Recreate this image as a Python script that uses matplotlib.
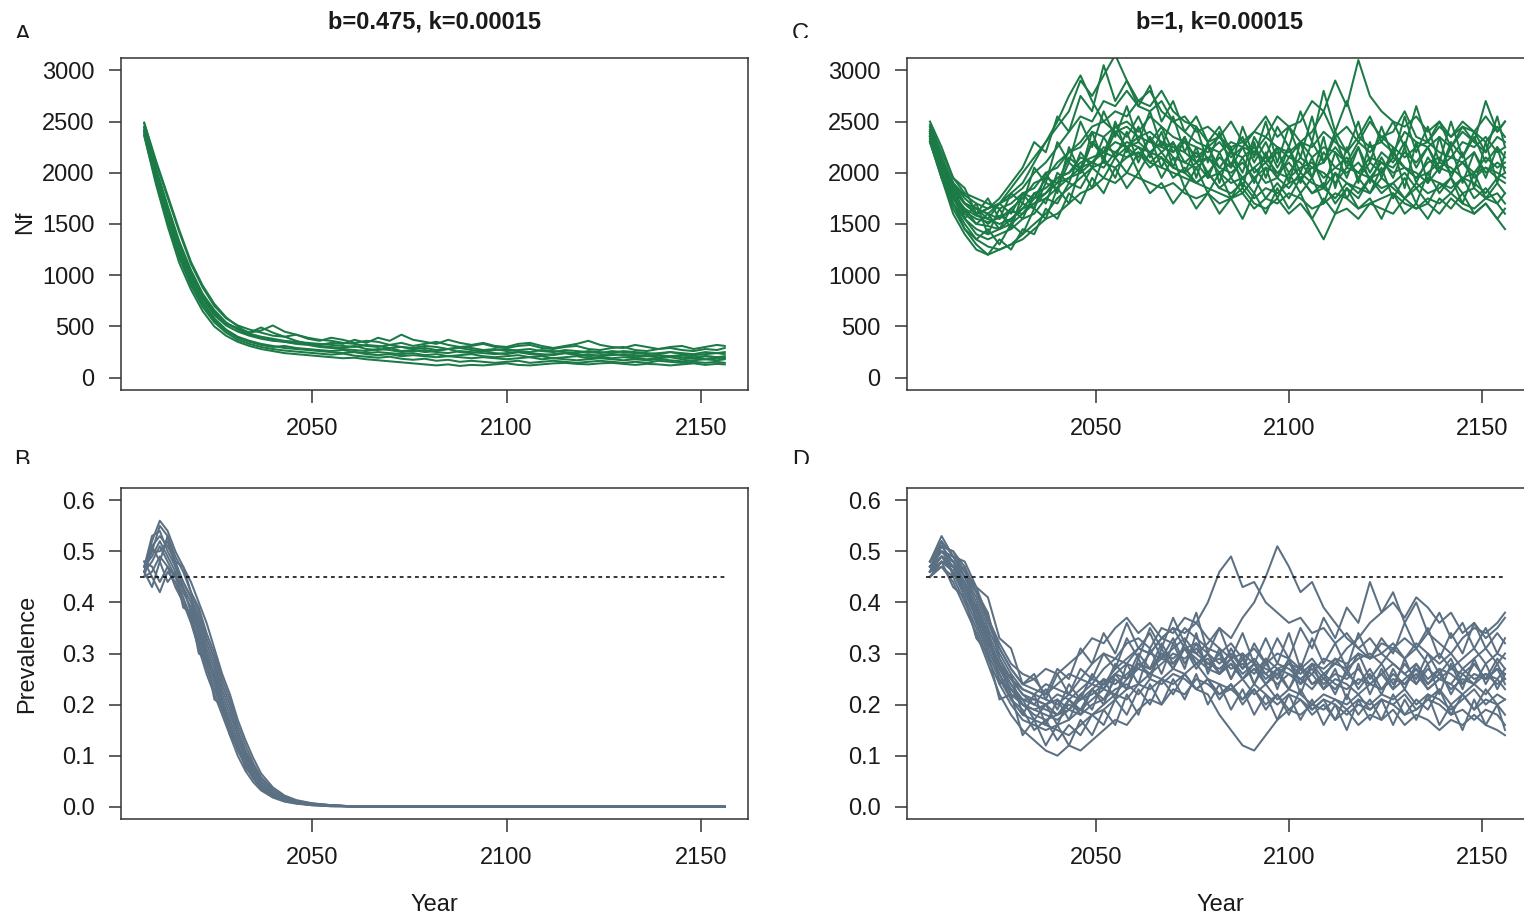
import matplotlib
matplotlib.use("Agg")
import matplotlib.pyplot as plt
import numpy as np
from matplotlib.patches import Rectangle

plt.rcParams['font.family'] = ['Liberation Sans', 'DejaVu Sans']

# ---------------- data ----------------
YEARS = list(range(2007, 2155, 3)) + [2156]          # 51 time points (panels A, C, D)
YEARS_B = [2007, 2009, 2011, 2013, 2015, 2017, 2019, 2021, 2023, 2025,
           2027, 2029, 2031, 2033, 2035, 2037, 2040, 2043, 2046, 2050,
           2055, 2060, 2070, 2156]

TITLES = ["b=0.475, k=0.00015", "b=1, k=0.00015"]
PANEL_LETTERS = ["A", "B", "C", "D"]
NF_TICKS = [0, 500, 1000, 1500, 2000, 2500, 3000]
PREV_TICKS = [0.0, 0.1, 0.2, 0.3, 0.4, 0.5, 0.6]
X_TICKS = [2050, 2100, 2150]
THRESHOLD = 0.45
THRESHOLD_SPAN = (2006, 2156)

# Panel A: Nf, b=0.475
NF_A = [
    [2480, 2100, 1760, 1420, 1110, 880, 700, 580, 510, 470,
     440, 410, 400, 420, 380, 360, 390, 370, 340, 360,
     350, 320, 340, 310, 330, 350, 320, 300, 310, 330,
     300, 290, 310, 320, 290, 280, 300, 310, 280, 270,
     290, 300, 270, 260, 280, 290, 270, 260, 280, 270, 290],
    [2370, 1920, 1520, 1170, 900, 690, 540, 440, 370, 330,
     300, 280, 265, 255, 245, 235, 225, 235, 215, 205,
     195, 205, 185, 175, 185, 165, 175, 155, 165, 155,
     145, 155, 165, 145, 155, 165, 155, 145, 155, 165,
     155, 145, 155, 145, 165, 155, 145, 155, 145, 155, 145],
    [2440, 2020, 1650, 1300, 1020, 800, 640, 530, 480, 440,
     490, 440, 400, 360, 330, 310, 300, 290, 310, 280,
     270, 290, 260, 270, 250, 260, 280, 250, 240, 260,
     240, 230, 250, 240, 230, 220, 240, 230, 210, 220,
     230, 220, 200, 210, 220, 210, 200, 190, 210, 200, 210],
    [2400, 1980, 1600, 1260, 990, 770, 610, 510, 450, 410,
     380, 360, 350, 340, 330, 320, 340, 330, 370, 340,
     390, 360, 420, 370, 350, 330, 370, 340, 320, 340,
     310, 300, 330, 340, 310, 290, 310, 330, 360, 320,
     300, 290, 320, 300, 280, 300, 310, 280, 300, 320, 310],
    [2360, 1890, 1480, 1120, 860, 650, 500, 410, 350, 310,
     280, 260, 240, 230, 220, 210, 200, 190, 195, 180,
     170, 160, 150, 140, 130, 120, 130, 115, 125, 120,
     130, 140, 125, 120, 130, 140, 145, 135, 130, 140,
     145, 135, 125, 135, 130, 120, 130, 140, 125, 135, 130],
    [2450, 2050, 1680, 1330, 1050, 820, 660, 540, 470, 420,
     390, 370, 350, 330, 320, 300, 290, 280, 270, 260,
     280, 270, 250, 260, 270, 250, 240, 260, 250, 240,
     230, 240, 250, 230, 220, 230, 240, 220, 230, 210,
     220, 230, 220, 210, 200, 210, 220, 200, 210, 200, 190],
    [2420, 2010, 1630, 1290, 1010, 790, 630, 530, 480, 440,
     460, 510, 450, 420, 390, 370, 360, 340, 330, 310,
     300, 320, 300, 290, 310, 300, 280, 300, 290, 270,
     280, 260, 270, 280, 260, 250, 270, 260, 250, 240,
     260, 250, 240, 230, 240, 250, 230, 220, 230, 240, 230],
    [2410, 1960, 1580, 1230, 960, 740, 580, 470, 400, 360,
     330, 310, 290, 280, 270, 260, 250, 240, 250, 230,
     220, 230, 210, 220, 210, 200, 210, 200, 190, 200,
     190, 180, 190, 200, 180, 190, 180, 170, 180, 190,
     180, 170, 180, 170, 180, 170, 160, 170, 180, 170, 180],
    [2490, 2120, 1780, 1440, 1130, 900, 720, 590, 500, 430,
     400, 380, 360, 350, 340, 330, 320, 310, 300, 320,
     310, 290, 300, 280, 290, 270, 280, 290, 270, 260,
     270, 280, 260, 250, 270, 260, 250, 240, 260, 250,
     240, 260, 250, 240, 230, 250, 240, 230, 250, 240, 250],
    [2390, 1940, 1550, 1200, 930, 720, 560, 460, 390, 350,
     320, 300, 310, 290, 280, 270, 260, 270, 250, 240,
     250, 240, 230, 240, 220, 230, 210, 220, 230, 210,
     200, 210, 220, 200, 210, 190, 200, 210, 190, 200,
     190, 200, 190, 180, 190, 200, 180, 190, 180, 190, 200],
]

# Panel B: prevalence (%), b=0.475
PREV_B_PCT = [
    [46, 50, 55, 53, 49, 46, 42, 38, 33, 29, 24, 20, 15, 11, 8, 5.5, 3.2, 1.8, 1.1, 0.6, 0.3, 0.1, 0, 0],
    [48, 47, 44, 47, 45, 41, 37, 33, 28, 24, 19, 15, 11, 8, 5.5, 3.5, 2, 1.2, 0.7, 0.4, 0.2, 0.1, 0, 0],
    [45, 51, 53, 51, 48, 44, 41, 36, 31, 27, 22, 18, 14, 10, 7, 4.8, 2.6, 1.5, 0.9, 0.5, 0.2, 0.1, 0, 0],
    [47, 49, 52, 49, 46, 42, 39, 34, 30, 25, 20, 16, 12, 9, 6, 4, 2.3, 1.3, 0.8, 0.4, 0.2, 0.1, 0, 0],
    [46, 52, 56, 54, 50, 47, 44, 40, 36, 31, 26, 22, 17, 13, 9.5, 6.5, 3.8, 2.2, 1.3, 0.7, 0.3, 0.1, 0, 0],
    [48, 45, 42, 46, 44, 40, 36, 31, 26, 22, 18, 14, 10, 7, 4.8, 3.2, 1.8, 1, 0.6, 0.3, 0.1, 0.05, 0, 0],
    [47, 50, 50, 52, 47, 43, 40, 35, 30, 26, 21, 17, 13, 9.5, 6.5, 4.3, 2.4, 1.4, 0.8, 0.4, 0.2, 0.1, 0, 0],
    [46, 48, 51, 48, 45, 43, 38, 34, 29, 25, 21, 16, 12, 8.5, 6, 4, 2.2, 1.3, 0.8, 0.4, 0.2, 0.1, 0, 0],
    [47, 53, 54, 50, 47, 44, 41, 37, 32, 28, 23, 19, 14, 10.5, 7.5, 5, 2.8, 1.6, 1, 0.5, 0.2, 0.1, 0, 0],
    [45, 46, 49, 47, 43, 40, 37, 32, 27, 23, 19, 15, 11.5, 8, 5.5, 3.8, 2.1, 1.2, 0.7, 0.4, 0.2, 0.1, 0, 0],
    [46, 43, 48, 44, 46, 39, 38, 30, 29, 21, 20, 14, 12, 7.5, 6, 3.6, 2, 1.1, 0.7, 0.3, 0.1, 0.05, 0, 0],
    [47, 51, 48, 53, 48, 47, 42, 39, 34, 30, 25, 21, 16, 12, 8.5, 5.8, 3.4, 2, 1.2, 0.6, 0.3, 0.1, 0, 0],
]

# Panel C: Nf, b=1
NF_C = [
    [2450, 2150, 1900, 1780, 1700, 1650, 1700, 1760, 1850, 2000,
     2100, 2250, 2400, 2550, 2500, 2700, 2650, 2800, 2650, 2600,
     2700, 2500, 2550, 2400, 2450, 2350, 2500, 2300, 2400, 2550,
     2350, 2450, 2300, 2400, 2600, 2350, 2450, 2300, 2500, 2350,
     2400, 2600, 2350, 2300, 2450, 2350, 2500, 2400, 2300, 2450, 2350],
    [2300, 1950, 1650, 1450, 1350, 1280, 1250, 1300, 1350, 1450,
     1550, 1600, 1700, 1800, 1850, 1950, 1900, 2000, 1950, 1900,
     1850, 1900, 1800, 1750, 1800, 1700, 1750, 1800, 1650, 1750,
     1700, 1800, 1750, 1650, 1700, 1800, 1750, 1650, 1700, 1750,
     1800, 1700, 1650, 1750, 1700, 1800, 1700, 1650, 1750, 1700, 1600],
    [2400, 2050, 1820, 1700, 1600, 1500, 1580, 1520, 1700, 1650,
     1900, 1850, 2100, 2000, 2300, 2150, 2400, 2250, 2150, 2350,
     2200, 2300, 2100, 2200, 2000, 2150, 2050, 2250, 2000, 2100,
     1950, 2150, 2100, 1950, 2200, 2050, 2150, 1950, 2100, 2000,
     2200, 2050, 1950, 2100, 2150, 2000, 2100, 2200, 2000, 2100, 2050],
    [2350, 2100, 1850, 1700, 1650, 1600, 1700, 1850, 2000, 2150,
     2300, 2450, 2600, 2900, 2750, 2950, 3150, 2900, 2700, 2800,
     2600, 2500, 2400, 2300, 2250, 2350, 2200, 2150, 2250, 2100,
     2200, 2000, 2150, 2050, 2100, 2250, 2100, 2000, 2150, 2100,
     2050, 2200, 2100, 2250, 2050, 2150, 2100, 2000, 2150, 2050, 2100],
    [2300, 1950, 1600, 1400, 1250, 1200, 1250, 1300, 1400, 1500,
     1600, 1750, 1850, 1950, 2050, 2100, 2050, 2150, 2200, 2100,
     2050, 2000, 1950, 1900, 2000, 1850, 1800, 1900, 1750, 1850,
     1800, 1900, 1950, 1800, 1850, 1750, 1900, 1850, 1800, 1950,
     1850, 1750, 1900, 1800, 1850, 1950, 1800, 1850, 1750, 1800, 1700],
    [2420, 2150, 1900, 1750, 1650, 1600, 1550, 1650, 1750, 1900,
     1950, 2100, 2200, 2250, 2400, 2350, 2450, 2500, 2400, 2550,
     2450, 2350, 2300, 2250, 2200, 2300, 2150, 2250, 2200, 2100,
     2250, 2200, 2300, 2150, 2250, 2200, 2100, 2300, 2200, 2350,
     2250, 2150, 2250, 2300, 2200, 2150, 2300, 2250, 2350, 2200, 2250],
    [2330, 2000, 1750, 1600, 1500, 1480, 1450, 1500, 1600, 1700,
     1800, 1900, 1950, 2050, 2100, 2200, 2150, 2250, 2300, 2200,
     2150, 2050, 2000, 1900, 1850, 1800, 1750, 1850, 1700, 1650,
     1750, 1600, 1700, 1550, 1350, 1600, 1650, 1550, 1700, 1650,
     1600, 1750, 1650, 1700, 1600, 1750, 1650, 1600, 1700, 1550, 1450],
    [2380, 2100, 1800, 1650, 1580, 1550, 1500, 1550, 1650, 1800,
     1850, 1950, 2000, 2100, 2150, 2200, 2300, 2250, 2350, 2300,
     2250, 2200, 2300, 2150, 2250, 2200, 2300, 2250, 2400, 2350,
     2550, 2450, 2500, 2700, 2600, 2900, 2650, 3100, 2750, 2600,
     2500, 2450, 2550, 2400, 2500, 2350, 2450, 2400, 2550, 2400, 2500],
    [2360, 2050, 1780, 1620, 1550, 1520, 1560, 1620, 1600, 1750,
     1800, 1950, 2000, 2150, 2100, 2250, 2200, 2300, 2250, 2200,
     2300, 2150, 2100, 2050, 2150, 2000, 2100, 1950, 2050, 2150,
     2000, 1950, 2050, 2100, 1950, 2050, 2000, 2100, 1950, 2000,
     2150, 2050, 2000, 1900, 2050, 2000, 2100, 1950, 2050, 2000, 1950],
    [2400, 2000, 1750, 1550, 1450, 1400, 1450, 1550, 1650, 1700,
     1750, 1850, 1950, 2000, 2100, 2050, 2200, 2150, 2250, 2100,
     2200, 2050, 2000, 2100, 1950, 2000, 1900, 1950, 2050, 1900,
     1950, 1850, 2000, 1900, 1850, 2000, 1900, 1800, 1950, 1850,
     1900, 2000, 1850, 1950, 1900, 1850, 1950, 1900, 1800, 1950, 1900],
    [2470, 2200, 1950, 1800, 1750, 1700, 1650, 1700, 1800, 1850,
     2000, 2050, 2200, 2300, 2450, 2500, 2600, 2550, 2700, 2650,
     2800, 2600, 2500, 2450, 2300, 2350, 2250, 2300, 2200, 2350,
     2250, 2150, 2300, 2250, 2400, 2300, 2200, 2350, 2250, 2300,
     2200, 2400, 2300, 2250, 2350, 2250, 2400, 2300, 2200, 2350, 2300],
    [2350, 2050, 1850, 1700, 1600, 1650, 1700, 1800, 1900, 2100,
     2300, 2500, 2750, 2950, 2700, 2500, 2400, 2450, 2350, 2400,
     2300, 2250, 2200, 2100, 2150, 2050, 2000, 2100, 1950, 2050,
     2000, 2100, 1950, 2050, 2000, 1900, 2050, 2000, 1950, 2100,
     2000, 2050, 1950, 2000, 2100, 2050, 1950, 2000, 2050, 1950, 2000],
    [2420, 2000, 1900, 1550, 1700, 1400, 1650, 1450, 1800, 1650,
     2000, 1800, 2250, 2000, 2400, 2100, 2500, 2200, 2450, 2150,
     2400, 2050, 2350, 1950, 2300, 1900, 2250, 1850, 2300, 1950,
     2250, 1900, 2300, 1950, 2350, 1850, 2250, 1900, 2300, 1950,
     2250, 1850, 2300, 1900, 2350, 1950, 2200, 1850, 2300, 1900, 2200],
    [2500, 2250, 1950, 1850, 1600, 1750, 1550, 1800, 1700, 2050,
     1900, 2300, 2100, 2500, 2250, 2600, 2350, 2650, 2300, 2600,
     2250, 2550, 2200, 2450, 2100, 2400, 2050, 2450, 2150, 2500,
     2100, 2450, 2150, 2550, 2100, 2400, 2200, 2500, 2100, 2450,
     2150, 2550, 2200, 2450, 2100, 2500, 2150, 2400, 2200, 2550, 2250],
    [2300, 2000, 1700, 1500, 1350, 1450, 1300, 1500, 1400, 1650,
     1550, 1850, 1700, 2050, 1850, 2150, 1950, 2250, 2000, 2200,
     1950, 2150, 1850, 2050, 1800, 2000, 1750, 1950, 1800, 2050,
     1750, 2000, 1800, 1950, 1700, 2000, 1750, 1950, 1800, 2050,
     1750, 1950, 1700, 2000, 1800, 1950, 1700, 2000, 1750, 1900, 1800],
    [2400, 2150, 1850, 1700, 1600, 1650, 1750, 1900, 2050, 2300,
     2200, 2550, 2400, 2750, 2600, 3050, 2700, 2900, 2650, 2850,
     2500, 2700, 2400, 2550, 2300, 2450, 2200, 2350, 2100, 2300,
     2050, 2250, 2000, 2300, 2100, 2350, 2050, 2250, 2000, 2200,
     2100, 2300, 2050, 2250, 2000, 2300, 2150, 2350, 2100, 2250, 2150],
    [2350, 1950, 1700, 1450, 1300, 1200, 1350, 1250, 1450, 1400,
     1650, 1550, 1800, 1700, 1950, 1800, 2050, 1850, 2000, 1800,
     1900, 1700, 1850, 1650, 1800, 1600, 1750, 1550, 1800, 1600,
     1850, 1650, 1800, 1550, 1750, 1600, 1850, 1650, 1750, 1550,
     1800, 1600, 1700, 1550, 1750, 1650, 1800, 1600, 1700, 1550, 1650],
    [2450, 2100, 1900, 1700, 1650, 1550, 1700, 1600, 1800, 1750,
     1950, 1900, 2150, 2050, 2300, 2200, 2450, 2350, 2550, 2300,
     2450, 2200, 2350, 2100, 2250, 2050, 2200, 2000, 2350, 2150,
     2450, 2250, 2600, 2300, 2800, 2400, 2700, 2350, 2550, 2300,
     2500, 2250, 2650, 2300, 2500, 2250, 2450, 2300, 2700, 2400, 2500],
    [2380, 2050, 1750, 1650, 1500, 1600, 1450, 1650, 1550, 1800,
     1700, 2000, 1900, 2200, 2050, 2350, 2150, 2400, 2100, 2350,
     2050, 2300, 2000, 2250, 1950, 2200, 1950, 2150, 1900, 2200,
     1950, 2250, 1900, 2150, 1850, 2200, 1950, 2250, 1900, 2150,
     1950, 2250, 1900, 2150, 2000, 2250, 1900, 2200, 1950, 2250, 2000],
    [2320, 2000, 1700, 1550, 1400, 1350, 1400, 1450, 1550, 1600,
     1750, 1700, 1900, 1850, 2050, 1950, 2150, 2000, 2200, 2050,
     2150, 1950, 2050, 1900, 2000, 1850, 1950, 1800, 1950, 1750,
     1900, 1750, 1950, 1800, 1900, 1700, 1850, 1750, 1950, 1800,
     1900, 1750, 1850, 1700, 1900, 1800, 1950, 1750, 1850, 1700, 1800],
]

# Panel D: prevalence (%), b=1
PREV_D_PCT = [
    [47, 51, 50, 46, 42, 36, 31, 27, 24, 23,
     22, 24, 26, 25, 28, 30, 29, 32, 33, 31,
     35, 34, 37, 36, 40, 46, 49, 43, 44, 40,
     38, 36, 37, 34, 35, 32, 34, 31, 33, 30,
     32, 29, 31, 28, 30, 27, 29, 31, 28, 30, 29],
    [46, 48, 46, 42, 37, 31, 26, 22, 20, 18,
     17, 18, 19, 21, 22, 24, 26, 28, 27, 30,
     29, 31, 33, 30, 32, 35, 33, 37, 40, 45,
     51, 47, 42, 44, 39, 36, 33, 31, 29, 30,
     28, 26, 28, 25, 27, 26, 24, 26, 25, 27, 26],
    [45, 47, 44, 39, 34, 28, 22, 18, 15, 13,
     11, 10, 12, 11, 13, 15, 17, 16, 19, 21,
     20, 23, 22, 25, 24, 22, 23, 21, 24, 22,
     20, 22, 21, 19, 21, 20, 18, 20, 19, 21,
     20, 18, 19, 21, 20, 18, 19, 17, 19, 18, 16],
    [48, 52, 49, 45, 40, 34, 29, 25, 23, 22,
     24, 23, 22, 25, 24, 27, 29, 28, 31, 30,
     33, 32, 35, 33, 31, 30, 32, 29, 31, 28,
     30, 29, 27, 29, 26, 28, 27, 29, 30, 28,
     31, 29, 32, 30, 28, 30, 27, 29, 31, 28, 30],
    [46, 49, 47, 43, 38, 33, 27, 23, 20, 19,
     18, 17, 19, 18, 20, 21, 23, 24, 22, 25,
     24, 26, 25, 23, 22, 18, 15, 12, 11, 14,
     17, 19, 18, 20, 19, 21, 20, 22, 19, 21,
     20, 22, 19, 21, 23, 20, 22, 19, 21, 20, 18],
    [47, 50, 48, 44, 39, 33, 28, 24, 21, 21,
     20, 22, 21, 23, 25, 24, 27, 29, 31, 30,
     33, 35, 34, 36, 33, 31, 29, 30, 28, 27,
     26, 28, 27, 26, 29, 28, 31, 33, 36, 38,
     40, 37, 41, 39, 36, 38, 34, 36, 33, 35, 37],
    [46, 48, 47, 42, 38, 32, 27, 23, 21, 20,
     19, 18, 20, 19, 21, 23, 22, 25, 27, 26,
     28, 30, 29, 31, 28, 27, 29, 26, 28, 25,
     27, 26, 24, 26, 23, 25, 24, 22, 24, 23,
     25, 24, 26, 23, 25, 24, 22, 24, 26, 25, 27],
    [47, 49, 46, 41, 36, 30, 25, 21, 18, 17,
     16, 15, 14, 16, 18, 19, 21, 23, 24, 26,
     25, 27, 26, 28, 25, 24, 23, 25, 22, 24,
     21, 23, 22, 20, 22, 21, 19, 21, 20, 22,
     21, 23, 20, 22, 21, 19, 21, 23, 20, 22, 21],
    [48, 51, 50, 47, 42, 37, 32, 28, 26, 25,
     27, 26, 28, 30, 33, 32, 35, 37, 34, 36,
     33, 35, 31, 32, 30, 28, 30, 27, 29, 26,
     28, 27, 25, 27, 24, 26, 25, 27, 24, 26,
     28, 26, 24, 27, 25, 27, 26, 28, 25, 27, 24],
    [46, 47, 45, 40, 35, 29, 24, 20, 17, 16,
     15, 16, 17, 19, 18, 20, 22, 21, 24, 23,
     25, 24, 26, 23, 25, 22, 24, 21, 23, 20,
     22, 19, 21, 18, 20, 17, 19, 16, 18, 17,
     19, 16, 18, 17, 15, 17, 16, 18, 16, 15, 14],
    [47, 50, 49, 45, 41, 35, 30, 26, 23, 22,
     21, 20, 22, 21, 23, 25, 24, 26, 28, 27,
     30, 29, 31, 30, 28, 29, 27, 28, 26, 29,
     27, 28, 26, 28, 27, 29, 28, 30, 29, 32,
     31, 33, 31, 34, 32, 30, 33, 35, 34, 36, 38],
    [45, 48, 47, 43, 39, 33, 28, 25, 22, 21,
     20, 21, 19, 22, 24, 23, 26, 25, 28, 27,
     29, 28, 31, 29, 27, 26, 28, 25, 27, 26,
     24, 26, 25, 23, 26, 24, 23, 25, 24, 26,
     23, 25, 27, 24, 26, 23, 25, 24, 22, 25, 23],
    [46, 52, 45, 47, 36, 35, 24, 26, 18, 22,
     16, 21, 17, 22, 19, 25, 21, 28, 24, 31,
     26, 32, 27, 34, 26, 31, 25, 30, 24, 29,
     23, 29, 22, 28, 23, 27, 21, 28, 22, 27,
     23, 29, 24, 28, 22, 28, 23, 29, 24, 28, 25],
    [48, 53, 49, 48, 43, 41, 33, 31, 24, 26,
     21, 26, 22, 27, 25, 30, 27, 33, 29, 35,
     31, 37, 32, 38, 30, 35, 29, 34, 28, 33,
     28, 34, 27, 33, 28, 32, 27, 34, 29, 33,
     30, 36, 31, 35, 29, 34, 30, 36, 31, 34, 32],
    [45, 48, 43, 41, 33, 30, 21, 22, 14, 17,
     12, 16, 12, 17, 14, 19, 16, 22, 18, 24,
     20, 25, 21, 26, 20, 24, 19, 23, 18, 22,
     17, 22, 17, 21, 16, 20, 15, 21, 17, 21,
     16, 21, 17, 22, 16, 20, 15, 21, 16, 20, 15],
    [47, 50, 47, 44, 39, 32, 28, 22, 21, 17,
     20, 16, 21, 18, 23, 20, 26, 23, 29, 25,
     31, 27, 32, 28, 30, 26, 29, 25, 28, 24,
     27, 23, 28, 24, 26, 22, 27, 23, 26, 22,
     27, 23, 28, 24, 27, 22, 26, 24, 28, 23, 26],
    [46, 51, 48, 45, 42, 38, 29, 25, 22, 20,
     23, 19, 24, 21, 26, 23, 28, 25, 30, 27,
     32, 28, 31, 27, 30, 26, 31, 27, 32, 28,
     33, 29, 35, 31, 37, 33, 39, 36, 44, 38,
     42, 36, 40, 34, 38, 33, 36, 31, 35, 30, 33],
    [47, 49, 46, 42, 37, 31, 26, 21, 19, 15,
     17, 13, 16, 14, 18, 16, 21, 18, 23, 20,
     25, 22, 26, 23, 25, 21, 24, 20, 23, 19,
     22, 18, 23, 19, 21, 17, 22, 18, 21, 17,
     22, 18, 21, 19, 23, 18, 22, 19, 23, 20, 21],
    [48, 50, 49, 46, 43, 37, 31, 27, 24, 25,
     22, 27, 25, 31, 28, 34, 30, 36, 31, 34,
     29, 33, 28, 32, 27, 30, 25, 29, 24, 28,
     25, 29, 24, 28, 25, 29, 26, 30, 25, 28,
     24, 28, 25, 30, 26, 29, 24, 28, 25, 29, 27],
    [46, 49, 48, 43, 39, 33, 27, 24, 20, 19,
     20, 18, 21, 19, 23, 21, 25, 23, 28, 26,
     30, 27, 31, 28, 29, 26, 28, 25, 27, 24,
     26, 23, 27, 24, 25, 23, 26, 24, 27, 23,
     26, 24, 27, 23, 25, 24, 27, 25, 26, 24, 25],
]

# ---------------- style ----------------
GREEN = "#1b7a45"
GREY = "#5c7083"
INK = "#1a1a1a"
FS = 17
LW = 1.45
W, H = 1524, 918
XLIM = (2001.04, 2161.96)

fig = plt.figure(figsize=(W / 100, H / 100), dpi=100)


def px_axes(l, t, r, b):
    return fig.add_axes([l / W, 1 - b / H, (r - l) / W, (b - t) / H])


def style(ax, yticks, fmt):
    for s in ax.spines.values():
        s.set_linewidth(1.1)
        s.set_color("#333333")
    ax.set_xlim(*XLIM)
    ax.set_xticks(X_TICKS)
    ax.set_yticks(yticks)
    ax.set_yticklabels([fmt(v) for v in yticks])
    ax.set_ylim(yticks[0] - 0.04 * (yticks[-1] - yticks[0]),
                yticks[-1] + 0.04 * (yticks[-1] - yticks[0]))
    ax.tick_params(axis="both", direction="out", length=9, width=1.1,
                   color="#333333", labelsize=FS, labelcolor=INK)
    ax.tick_params(axis="y", pad=10)
    ax.tick_params(axis="x", pad=11)


axA = px_axes(121, 58, 748, 390)
axB = px_axes(121, 488, 748, 819)
axC = px_axes(907, 58, 1528, 390)
axD = px_axes(907, 488, 1528, 819)

for tr in NF_A:
    axA.plot(YEARS, tr, color=GREEN, lw=LW)
for tr in NF_C:
    axC.plot(YEARS, tr, color=GREEN, lw=LW)
for tr in PREV_B_PCT:
    axB.plot(YEARS_B, np.array(tr) / 100.0, color=GREY, lw=LW)
for tr in PREV_D_PCT:
    axD.plot(YEARS, np.array(tr) / 100.0, color=GREY, lw=LW)

for ax in (axB, axD):
    ax.hlines(THRESHOLD, THRESHOLD_SPAN[0], THRESHOLD_SPAN[1], colors="black",
              linestyles=(0, (2.5, 2.5)), lw=1.1)

style(axA, NF_TICKS, lambda v: f"{v:d}")
style(axC, NF_TICKS, lambda v: f"{v:d}")
style(axB, PREV_TICKS, lambda v: f"{v:.1f}")
style(axD, PREV_TICKS, lambda v: f"{v:.1f}")

# titles
fig.text(434.5 / W, 1 - 22 / H, TITLES[0], ha="center", va="center",
         fontsize=FS, fontweight="bold", color=INK)
fig.text(1220 / W, 1 - 22 / H, TITLES[1], ha="center", va="center",
         fontsize=FS, fontweight="bold", color=INK)

# axis labels
fig.text(25 / W, 1 - 222 / H, "Nf", rotation=90, ha="center", va="center",
         fontsize=FS, color=INK)
fig.text(27 / W, 1 - 654 / H, "Prevalence", rotation=90, ha="center", va="center",
         fontsize=FS, color=INK)
fig.text(434 / W, 1 - 905 / H, "Year", ha="center", va="center", fontsize=FS, color=INK)
fig.text(1220 / W, 1 - 905 / H, "Year", ha="center", va="center", fontsize=FS, color=INK)

# panel letters, their lower part hidden like in the original
# (x, top of glyph, y where the glyph is cut) in image pixels
letter_pos = [(15, 25, 38), (14, 450, 464), (792, 23, 38), (792, 450, 464)]
for letter, (x, ytop, ycut) in zip(PANEL_LETTERS, letter_pos):
    fig.text(x / W, 1 - ytop / H, letter, ha="left", va="top", fontsize=FS,
             color=INK, zorder=5)
    fig.patches.append(Rectangle(((x - 8) / W, 1 - (ycut + 14) / H),
                                 40 / W, 14 / H, transform=fig.transFigure,
                                 facecolor="white", edgecolor="none", zorder=6,
                                 figure=fig))

fig.savefig("out.png", dpi=100)
